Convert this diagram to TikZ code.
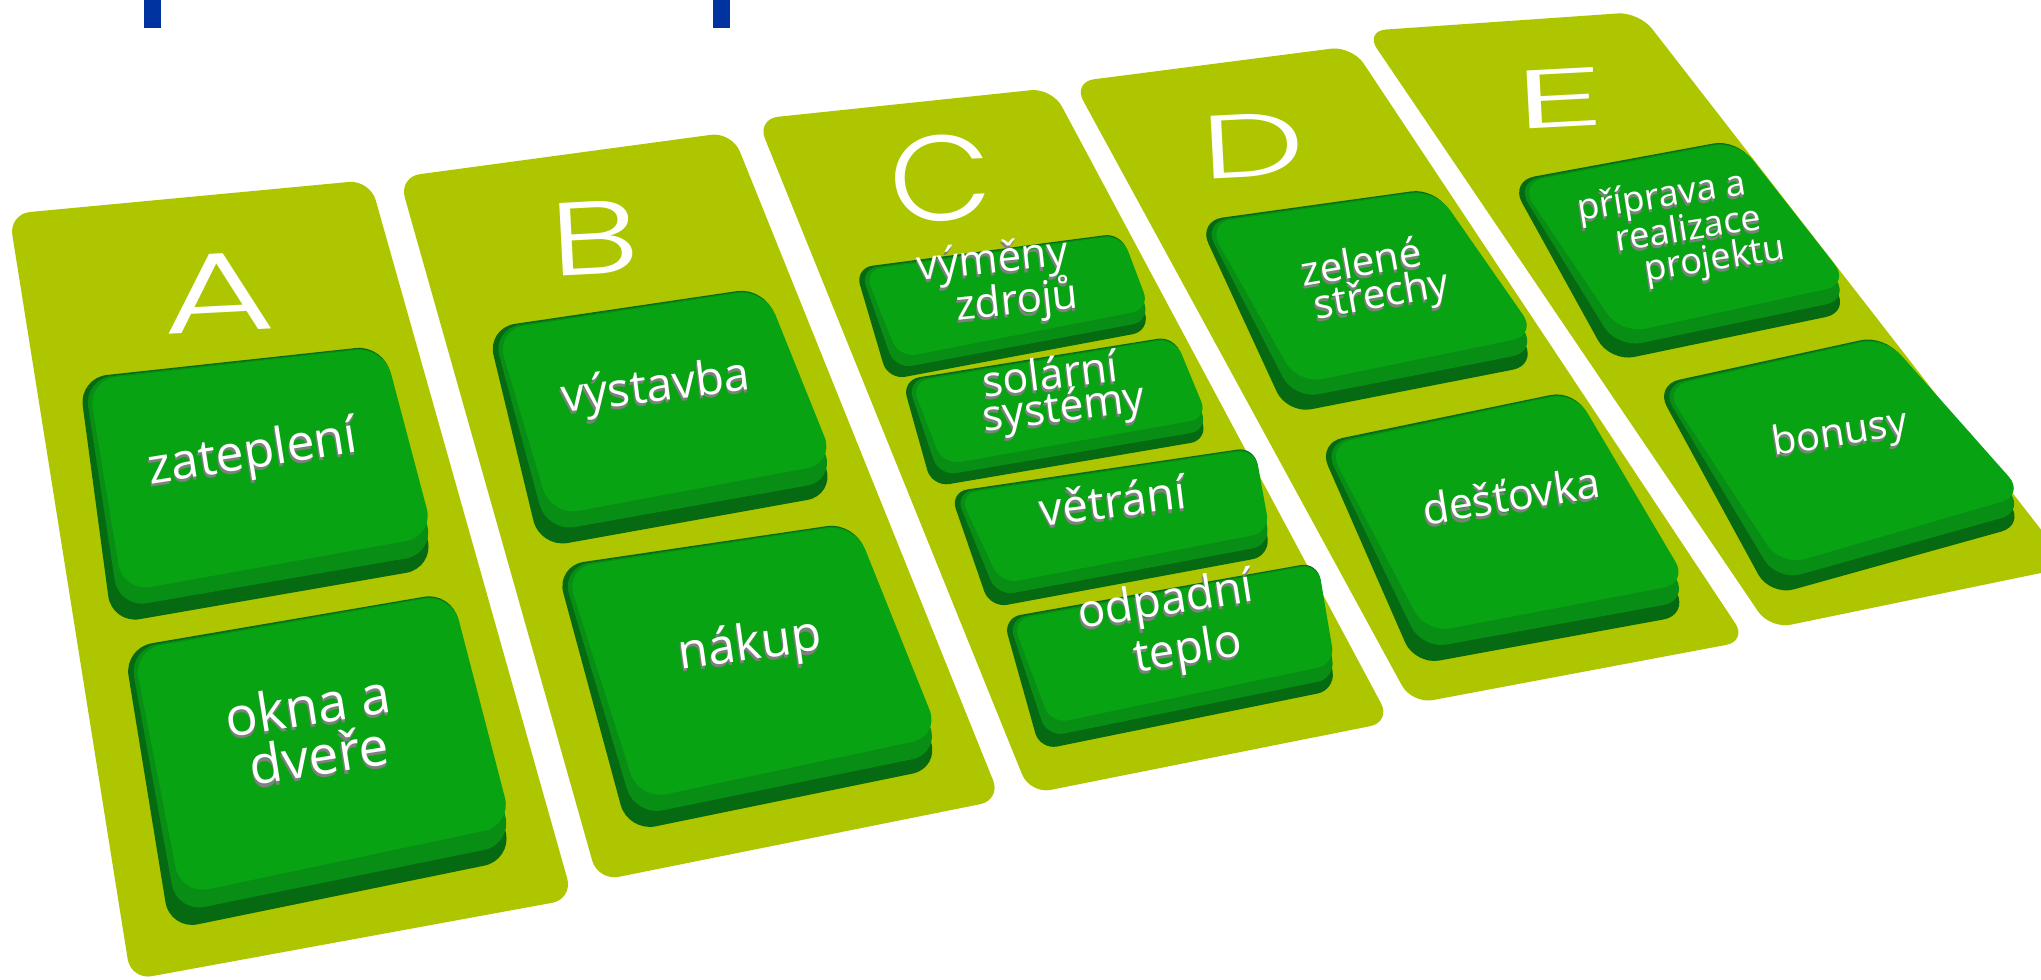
\documentclass[tikz,border=0pt]{standalone}
\usepackage{fontspec}
\setmainfont{Open Sans}
\IfFontExistsTF{Poppins Light}{\newfontfamily\letterfont{Poppins Light}}{\newfontfamily\letterfont{Poppins}}
\usetikzlibrary{calc}
\definecolor{panelgreen}{HTML}{AEC600}
\definecolor{keyface}{HTML}{07A313}
\definecolor{keymid}{HTML}{088E14}
\definecolor{keydark}{HTML}{056A12}
\definecolor{barblue}{HTML}{0033A0}
\definecolor{textshade}{HTML}{7F7F7F}
\tikzset{
  panel/.style={fill=panelgreen, rounded corners=6pt},
  keybase/.style={fill=keydark, rounded corners=#1},
  keyband/.style={fill=keymid, rounded corners=#1},
  keytop/.style={fill=keyface, rounded corners=#1},
  keylabel/.style={text=white, inner sep=0pt},
  letter/.style={text=white, inner sep=0pt},
  bar/.style={fill=barblue},
}
% #1 key name, #2 depth (px), #3 corner radius
\newcommand{\drawkey}[3]{%
  \fill[keybase=#3] (#1tl) -- (#1tr) -- (#1br) -- (#1bl) -- cycle;
  \fill[keyband=#3] ($(#1tl)+(5,1)$) -- ($(#1tr)+(0,1)$) -- ($(#1br)+(0,-#2*0.45)$) -- ($(#1bl)+(7,-#2*0.5)$) -- cycle;
  \fill[keytop=#3] ($(#1tl)+(9,2)$) -- ($(#1tr)+(0,2)$) -- ($(#1br)+(0,-#2)$) -- ($(#1bl)+(11,-#2)$) -- cycle;
}
% embossed text: grey copy slightly below-left, white copy on top
\newcommand{\emboss}[1]{\rlap{\raisebox{-0.85pt}[0pt][0pt]{\kern-0.35pt\textcolor{textshade}{#1}}}#1}
% one line of key text: #1 name, #2 position, #3 rotation, #4 size (pt), #5 text
\newcommand{\keyline}[5]{%
  \node[keylabel, rotate=#3, font=\fontsize{#4}{#4}\selectfont] (#1) at #2 {\emboss{#5}};
}
\begin{document}
\begin{tikzpicture}[x=0.01cm, y=-0.01cm]
\useasboundingbox (0,0) rectangle (2041,980);
\clip (0,0) rectangle (2041,980);
\fill[white] (0,0) rectangle (2041,980);

% blue bars at top edge
\fill[bar] (144,-5) rectangle (161,28);
\fill[bar] (713,-5) rectangle (730,28);

% panels
\fill[panel] (9,214) -- (370,180) -- (573,899) -- (131,980) -- cycle;
\fill[panel] (399,177) -- (732,132) -- (1001,800) -- (598,881) -- cycle;
\fill[panel] (757,119) -- (1052,88) -- (1391,722) -- (1030,794) -- cycle;
\fill[panel] (1073,82) -- (1352,46) -- (1747,641) -- (1412,704) -- cycle;
\fill[panel] (1365,31) -- (1639,12) -- (2070,567) -- (1770,629) -- cycle;

% letters
\node[letter, rotate=3, xscale=1.55, font=\letterfont\fontsize{32}{32}\selectfont] (letA) at (218,293) {A};
\node[letter, rotate=3, xscale=1.45, font=\letterfont\fontsize{29.5}{29.5}\selectfont] (letB) at (594,238) {B};
\node[letter, rotate=3, xscale=1.1, font=\letterfont\fontsize{34.5}{34.5}\selectfont] (letC) at (941,178) {C};
\node[letter, rotate=3, xscale=1.65, font=\letterfont\fontsize{25.5}{25.5}\selectfont] (letD) at (1253,145) {D};
\node[letter, rotate=3, xscale=2.2, font=\letterfont\fontsize{23.5}{23.5}\selectfont] (letE) at (1560,98) {E};

% key corner coordinates
\coordinate (a1tl) at (79,378);   \coordinate (a1tr) at (384,345);  \coordinate (a1br) at (434,568);  \coordinate (a1bl) at (112,624);
\coordinate (a2tl) at (124,648);  \coordinate (a2tr) at (452,592);  \coordinate (a2br) at (512,860);  \coordinate (a2bl) at (170,930);
\coordinate (b1tl) at (487,328);  \coordinate (b1tr) at (765,287);  \coordinate (b1br) at (835,495);  \coordinate (b1bl) at (540,548);
\coordinate (b2tl) at (556,566);  \coordinate (b2tr) at (855,522);  \coordinate (b2br) at (940,768);  \coordinate (b2bl) at (628,832);
\coordinate (c1tl) at (855,268);  \coordinate (c1tr) at (1122,233); \coordinate (c1br) at (1150,331); \coordinate (c1bl) at (888,380);
\coordinate (c2tl) at (902,380);  \coordinate (c2tr) at (1175,336); \coordinate (c2br) at (1208,440); \coordinate (c2bl) at (932,487);
\coordinate (c3tl) at (950,492);  \coordinate (c3tr) at (1255,447); \coordinate (c3br) at (1270,556); \coordinate (c3bl) at (990,608);
\coordinate (c4tl) at (1003,618); \coordinate (c4tr) at (1318,562); \coordinate (c4br) at (1335,690); \coordinate (c4bl) at (1040,750);
\coordinate (d1tl) at (1198,221); \coordinate (d1tr) at (1436,188); \coordinate (d1br) at (1537,365); \coordinate (d1bl) at (1287,414);
\coordinate (d2tl) at (1318,443); \coordinate (d2tr) at (1575,390); \coordinate (d2br) at (1688,615); \coordinate (d2bl) at (1415,665);
\coordinate (e1tl) at (1510,181); \coordinate (e1tr) at (1738,139); \coordinate (e1br) at (1850,312); \coordinate (e1bl) at (1610,362);
\coordinate (e2tl) at (1655,385); \coordinate (e2tr) at (1885,335); \coordinate (e2br) at (2025,525); \coordinate (e2bl) at (1770,596);

\drawkey{a1}{32}{8pt}
\drawkey{a2}{35}{8pt}
\drawkey{b1}{32}{8pt}
\drawkey{b2}{32}{8pt}
\drawkey{c1}{22}{5pt}
\drawkey{c2}{22}{5pt}
\drawkey{c3}{24}{5pt}
\drawkey{c4}{26}{5pt}
\drawkey{d1}{30}{7pt}
\drawkey{d2}{32}{7pt}
\drawkey{e1}{28}{7pt}
\drawkey{e2}{30}{7pt}

% key texts
\keyline{ta1}{(253,455)}{9}{14.2}{zateplení}
\keyline{ta2a}{(308,705)}{9}{15.2}{okna a}
\keyline{ta2b}{(319,755)}{9}{15.2}{dveře}
\keyline{tb1}{(656,389)}{7}{13.3}{výstavba}
\keyline{tb2}{(750,647)}{8}{14}{nákup}
\keyline{tc1a}{(993,262)}{6}{11.9}{výměny}
\keyline{tc1b}{(1017,302)}{6}{11.9}{zdrojů}
\keyline{tc2a}{(1050,373)}{7}{12.2}{solární}
\keyline{tc2b}{(1064,410)}{7}{12.2}{systémy}
\keyline{tc3}{(1113,500)}{7}{13}{větrání}
\keyline{tc4a}{(1166,603)}{9}{13}{odpadní}
\keyline{tc4b}{(1188,652)}{9}{13}{teplo}
\keyline{td1a}{(1361,261)}{10}{11.5}{zelené}
\keyline{td1b}{(1382,297)}{10}{11.5}{střechy}
\keyline{td2}{(1511,495)}{9}{12.2}{dešťovka}
\keyline{te1a}{(1662,198)}{9}{10.3}{příprava a}
\keyline{te1b}{(1688,227)}{9}{10.3}{realizace}
\keyline{te1c}{(1715,261)}{9}{10.3}{projektu}
\keyline{te2}{(1840,435)}{9}{11.3}{bonusy}
\end{tikzpicture}
\end{document}
